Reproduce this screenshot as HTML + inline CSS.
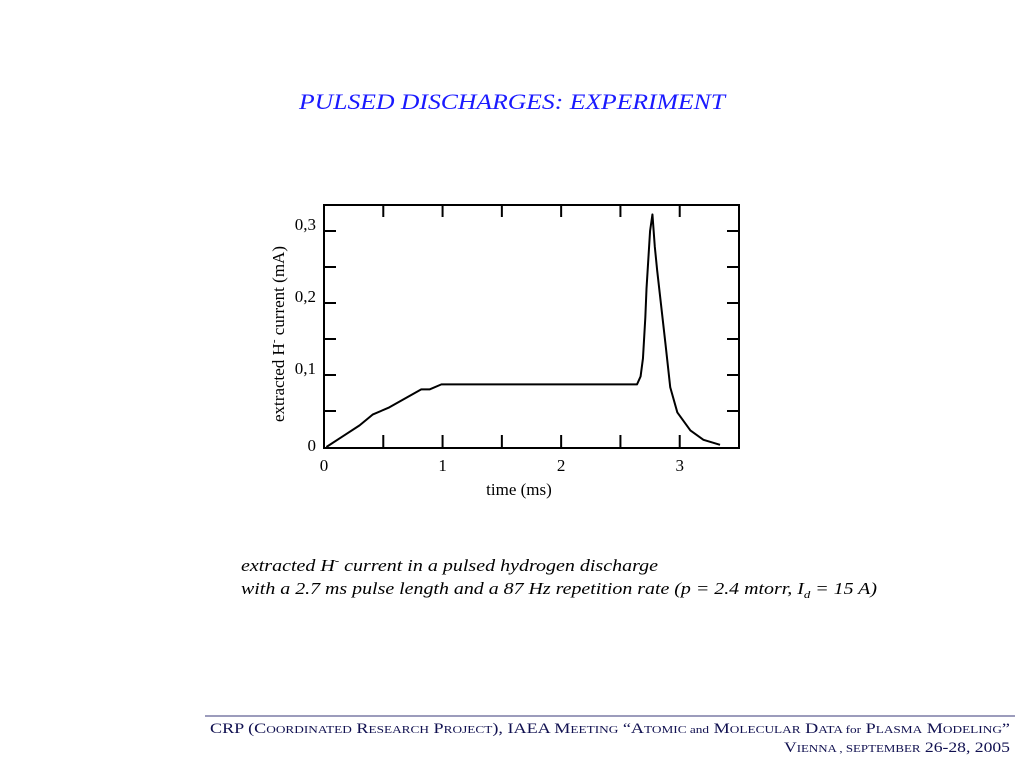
<!DOCTYPE html>
<html><head><meta charset="utf-8"><style>
body{margin:0;background:#fff}
svg{display:block}
text{font-family:"Liberation Serif",serif}
</style></head><body>
<svg width="1024" height="768" viewBox="0 0 1024 768" xmlns="http://www.w3.org/2000/svg">
<text x="512" y="109" text-anchor="middle" font-size="22" font-style="italic" fill="#1a1aff" textLength="426" lengthAdjust="spacingAndGlyphs">PULSED DISCHARGES: EXPERIMENT</text>
<g id="chart"></g>
<text x="241" y="571" font-size="17" font-style="italic" fill="#000" textLength="417" lengthAdjust="spacingAndGlyphs">extracted H<tspan font-size="11" dy="-7">-</tspan><tspan dy="7"> current in a pulsed hydrogen discharge</tspan></text>
<text x="241" y="594" font-size="17" font-style="italic" fill="#000" textLength="636" lengthAdjust="spacingAndGlyphs">with a 2.7 ms pulse length and a 87 Hz repetition rate (p = 2.4 mtorr, I<tspan font-size="11" dy="4">d</tspan><tspan dy="-4"> = 15 A)</tspan></text>
<line x1="205" y1="716" x2="1015" y2="716" stroke="#3a3a7a" stroke-width="1"/>
<text x="1010" y="733" text-anchor="end" font-size="15" fill="#101050" textLength="800" lengthAdjust="spacingAndGlyphs">CRP (C<tspan font-size="11">OORDINATED</tspan> R<tspan font-size="11">ESEARCH</tspan> P<tspan font-size="11">ROJECT</tspan>), IAEA M<tspan font-size="11">EETING</tspan> “A<tspan font-size="11">TOMIC and</tspan> M<tspan font-size="11">OLECULAR</tspan> D<tspan font-size="11">ATA for</tspan> P<tspan font-size="11">LASMA</tspan> M<tspan font-size="11">ODELING</tspan>”</text>
<text x="1010" y="752" text-anchor="end" font-size="15" fill="#101050" textLength="226" lengthAdjust="spacingAndGlyphs">V<tspan font-size="11">IENNA , SEPTEMBER</tspan> 26-28, 2005</text>
</svg>
<script>
const times=[0.02,0.16,0.3,0.41,0.55,0.82,0.89,0.99,2.64,2.67,2.69,2.71,2.72,2.75,2.77,2.79,2.81,2.88,2.92,2.98,3.09,3.2,3.34];
const currents=[0,0.015,0.03,0.045,0.055,0.08,0.08,0.087,0.087,0.098,0.123,0.18,0.22,0.3,0.323,0.278,0.245,0.143,0.083,0.048,0.023,0.01,0.003];
const xTickLabels=["0","1","2","3"];
const yTickLabels=["0","0,1","0,2","0,3"];
const NS="http://www.w3.org/2000/svg";
const L=324,R=739,T=205,B=447;
const xMax=3.5,yMax=(B-T)/720;
const X=v=>L+v/xMax*(R-L);
const Y=v=>B-v/yMax*(B-T);
const g=document.getElementById('chart');
function mk(t,a){const e=document.createElementNS(NS,t);for(const k in a)e.setAttribute(k,a[k]);g.appendChild(e);return e;}
let f=mk('rect',{x:L,y:T,width:R-L,height:B+1-T,fill:'none',stroke:'#000','stroke-width':2});


for(let i=1;i<7;i++){const x=X(i*0.5);
 let a=mk('line',{x1:x,y1:B,x2:x,y2:B-12,stroke:'#000','stroke-width':2});
 
 
 let b=mk('line',{x1:x,y1:T,x2:x,y2:T+12,stroke:'#000','stroke-width':2});
 
 }
for(let i=1;i<7;i++){const y=Y(i*0.05);
 let a=mk('line',{x1:L,y1:y,x2:L+12,y2:y,stroke:'#000','stroke-width':2});
 
 
 let b=mk('line',{x1:R,y1:y,x2:R-12,y2:y,stroke:'#000','stroke-width':2});
 
 }
xTickLabels.forEach((s,i)=>{let t=mk('text',{x:X(i),y:B+24,'text-anchor':'middle','font-size':17});t.textContent=s;
 
 });
yTickLabels.forEach((s,i)=>{let t=mk('text',{x:L-8,y:Y(i*0.1)+(i?-1:4),'text-anchor':'end','font-size':17});t.textContent=s;
 
 });
let xt=mk('text',{x:519,y:495,'text-anchor':'middle','font-size':17});xt.textContent='time (ms)';


let yt=mk('text',{x:0,y:0,'text-anchor':'middle','font-size':17,transform:'translate(284,334) rotate(-90)'});
yt.innerHTML='extracted H<tspan font-size="11" dy="-7">-</tspan><tspan dy="7"> current (mA)</tspan>';


let p=mk('polyline',{points:times.map((t,i)=>X(t)+','+Y(currents[i])).join(' '),fill:'none',stroke:'#000','stroke-width':2,'stroke-linejoin':'round'});


</script>
</body></html>
